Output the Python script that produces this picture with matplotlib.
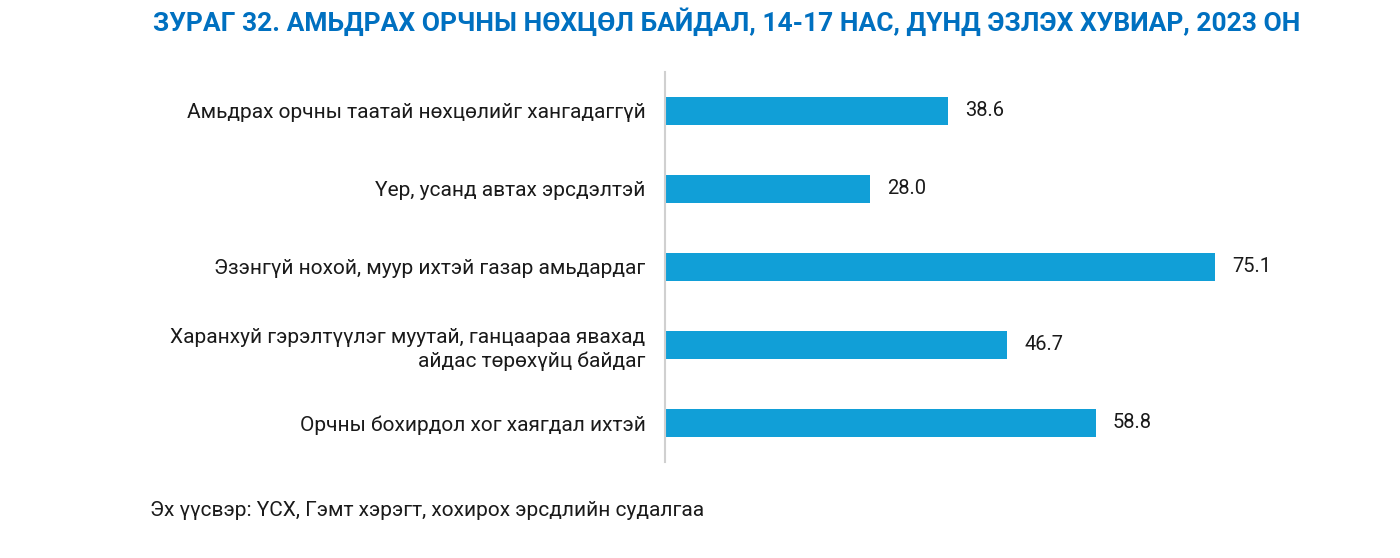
import matplotlib.pyplot as plt

plt.rcParams['font.family'] = ['Roboto', 'DejaVu Sans']

categories = [
    "Амьдрах орчны таатай нөхцөлийг хангадаггүй",
    "Үер, усанд автах эрсдэлтэй",
    "Эзэнгүй нохой, муур ихтэй газар амьдардаг",
    "Харанхуй гэрэлтүүлэг муутай, ганцаараа явахад\nайдас төрөхүйц байдаг",
    "Орчны бохирдол хог хаягдал ихтэй",
]
values = [38.6, 28.0, 75.1, 46.7, 58.8]

title = "ЗУРАГ 32. АМЬДРАХ ОРЧНЫ НӨХЦӨЛ БАЙДАЛ, 14-17 НАС, ДҮНД ЭЗЛЭХ ХУВИАР, 2023 ОН"
source = "Эх үүсвэр: ҮСХ, Гэмт хэрэгт, хохирох эрсдлийн судалгаа"

W, H = 1400, 558
fig = plt.figure(figsize=(W / 100, H / 100), dpi=100)
ax = fig.add_axes([665 / W, 96 / H, (1340 - 665) / W, 390 / H])

y = list(range(len(categories)))
ax.barh(y, values, height=0.36, color='#119FD7')
ax.set_ylim(len(categories) - 0.5, -0.5)
ax.set_xlim(0, 675 / 7.33)

# value labels just past the bar ends
for yi, v in zip(y, values):
    ax.text(v + 2.3, yi, f"{v:.1f}", va='center', ha='left', fontsize=14.5, color='#1a1a1a')

ax.set_yticks(y)
ax.set_yticklabels(categories, fontsize=15, color='#1a1a1a', linespacing=1.3)
ax.tick_params(axis='y', length=0, pad=14)
ax.set_xticks([])
for s in ['top', 'right', 'bottom']:
    ax.spines[s].set_visible(False)
ax.spines['left'].set_color('#d0d0d0')
ax.spines['left'].set_linewidth(1.5)

fig.text(727 / W, 1 - 22 / H, title, ha='center', va='center', fontsize=19,
         fontweight='bold', color='#0070C0')
fig.text(150 / W, 1 - 510 / H, source, ha='left', va='center', fontsize=15, color='#1a1a1a')

fig.savefig('out.png', dpi=100)
